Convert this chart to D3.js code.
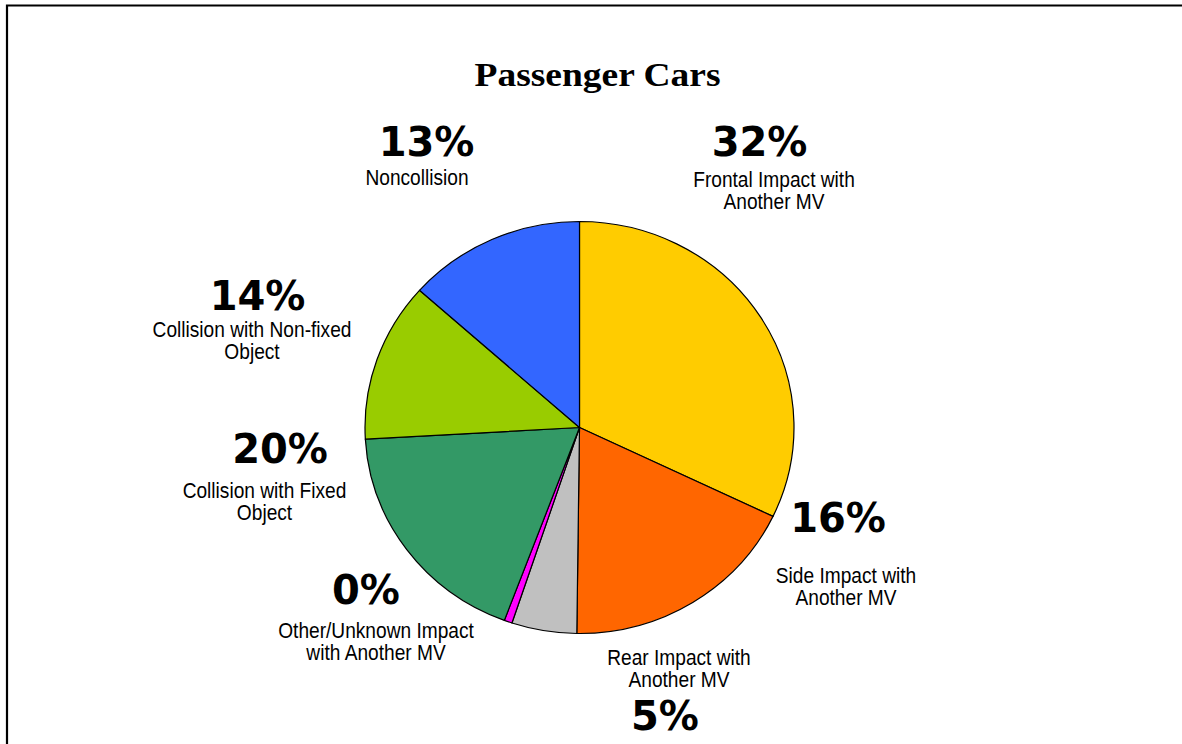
<!DOCTYPE html>
<html lang="en">
    <head>
        <meta charset="utf-8">
        <title>Passenger Cars</title>
        <script src="https://d3js.org/d3.v7.min.js"></script>
        <style>
            body { margin: 0; background: #fff; }
            svg { display: block; }
        </style>
    </head>
    <body>
        <script>
            // slice shares as drawn in the picture (percent of circle)
            const categories = ['Frontal Impact with Another MV', 'Side Impact with Another MV', 'Rear Impact with Another MV',
                                'Other/Unknown Impact with Another MV', 'Collision with Fixed Object',
                                'Collision with Non-fixed Object', 'Noncollision'];
            const shares = [32.1, 18.1, 4.9, 0.6, 18.4, 12.5, 13.4];
            // percentages as printed on the chart
            const pctLabels = ['32%', '16%', '5%', '0%', '20%', '14%', '13%'];
            // category text broken into lines as printed
            const catLines = [
                ['Frontal Impact with', 'Another MV'],
                ['Side Impact with', 'Another MV'],
                ['Rear Impact with', 'Another MV'],
                ['Other/Unknown Impact', 'with Another MV'],
                ['Collision with Fixed', 'Object'],
                ['Collision with Non-fixed', 'Object'],
                ['Noncollision']
            ];
            const colors = ['#FFCC00', '#FF6600', '#C0C0C0', '#FF00FF', '#339966', '#99CC00', '#3366FF'];

            const w = 1182;
            const h = 744;
            const cx = 579.5, cy = 427.5;
            const ry = 206, rx = 214.5;

            // label layout: [pctX, pctY, catX, catY], catY = first line baseline
            const labelLayout = [
                [759.5, 156, 774, 187],
                [838, 532, 846, 583],
                [665, 730, 679, 665],
                [366, 604, 376, 638],
                [280, 463, 264.5, 498],
                [257.5, 310, 252, 337],
                [426.5, 156, 417, 185]
            ];
            const lineGap = 22.4;

            const svg = d3.select('body')
                          .append('svg')
                          .attr('width', w)
                          .attr('height', h)

            // frame (only top and left edges show)
            svg.append('path')
               .attr('d', `M7,${h} V5.5 H${w}`)
               .attr('fill', 'none')
               .attr('stroke', '#000')
               .attr('stroke-width', 2.2)

            svg.append('text')
               .text('Passenger Cars')
               .attr('x', 597.5)
               .attr('y', 86)
               .attr('text-anchor', 'middle')
               .attr('font-family', '"Liberation Serif", "Times New Roman", serif')
               .attr('font-weight', 'bold')
               .attr('font-size', 34)
               .attr('textLength', 246)
               .attr('lengthAdjust', 'spacingAndGlyphs')

            const pie = d3.pie()
                          .sort(null)
                          .value(d => d)

            const arc = d3.arc()
                          .innerRadius(0)
                          .outerRadius(ry)

            const pieGroup = svg.append('g')
                                .attr('transform', `translate(${cx},${cy}) scale(${rx / ry},1)`)

            pieGroup.selectAll('path')
                    .data(pie(shares))
                    .enter()
                    .append('path')
                    .attr('d', arc)
                    .attr('fill', (d, i) => colors[i])
                    .attr('stroke', '#000')
                    .attr('stroke-width', 1.2)
                    .attr('stroke-linejoin', 'round')
                    .attr('vector-effect', 'non-scaling-stroke')

            // percentage labels
            svg.selectAll('text.pct')
               .data(pctLabels)
               .enter()
               .append('text')
               .attr('class', 'pct')
               .text(d => d)
               .attr('x', (d, i) => labelLayout[i][0])
               .attr('y', (d, i) => labelLayout[i][1])
               .attr('text-anchor', 'middle')
               .attr('font-family', '"DejaVu Sans", Verdana, sans-serif')
               .attr('font-weight', 'bold')
               .attr('font-size', 40)
               .attr('fill', '#000')

            // category labels, slightly condensed
            const cats = svg.selectAll('text.cat')
                            .data(catLines)
                            .enter()
                            .append('text')
                            .attr('class', 'cat')
                            .attr('transform', (d, i) => `translate(${labelLayout[i][2]},${labelLayout[i][3]}) scale(0.87,1)`)
                            .attr('text-anchor', 'middle')
                            .attr('font-family', '"Liberation Sans", Arial, sans-serif')
                            .attr('font-size', 22)
                            .attr('fill', '#000')

            cats.selectAll('tspan')
                .data(d => d)
                .enter()
                .append('tspan')
                .attr('x', 0)
                .attr('y', (d, j) => j * lineGap)
                .text(d => d)
        </script>
    </body>
</html>
